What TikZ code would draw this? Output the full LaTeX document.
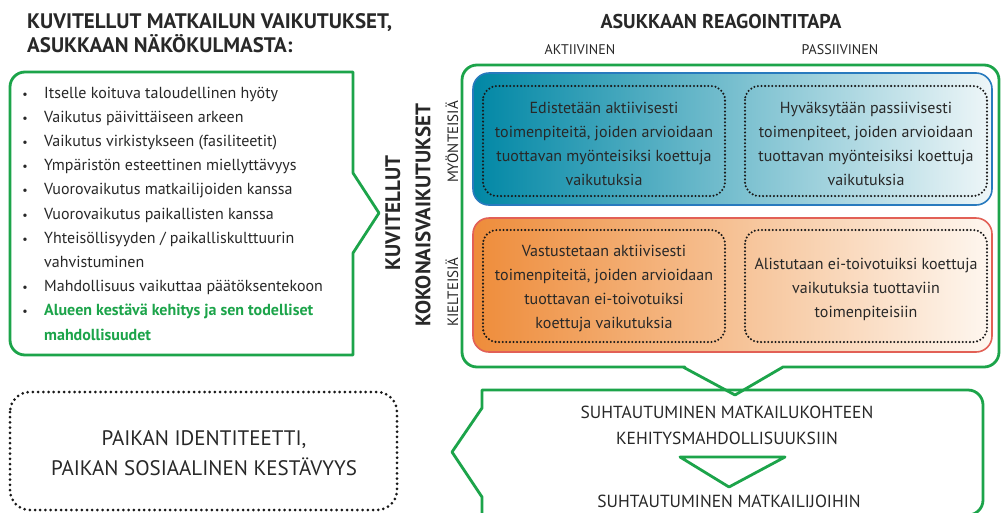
\documentclass[tikz,border=0pt]{standalone}
\usepackage{fontspec}
\setmainfont{PT Sans}
\definecolor{gr}{RGB}{28,164,74}
\definecolor{dk}{RGB}{25,25,25}
\definecolor{txt}{RGB}{40,40,40}
\definecolor{bluebd}{RGB}{40,122,190}
\definecolor{tealA}{RGB}{0,135,165}
\definecolor{tealB}{RGB}{80,175,195}
\definecolor{tealC}{RGB}{238,246,248}
\definecolor{redbd}{RGB}{226,96,86}
\definecolor{orA}{RGB}{238,140,58}
\definecolor{orB}{RGB}{246,190,135}
\definecolor{orC}{RGB}{254,247,240}
\begin{document}
\begin{tikzpicture}[x=1pt,y=-1pt,
  gline/.style={draw=gr, line width=2.8pt, line join=round},
  dotbox/.style={draw=dk, line width=2.3pt, dash pattern=on 0pt off 3.6pt, line cap=round, rounded corners=14pt},
  bigdot/.style={draw=dk, line width=3pt, dash pattern=on 0pt off 5.2pt, line cap=round, rounded corners=20pt},
  title/.style={font=\fontsize{21}{24}\selectfont\bfseries, text=txt, inner sep=0pt},
  item/.style={font=\fontsize{16}{18}\selectfont, text=txt, anchor=base west, inner sep=0pt},
  bul/.style={font=\fontsize{12}{13}\selectfont, text=txt, anchor=base, inner sep=0pt},
  boxtxt/.style={font=\fontsize{16}{24}\selectfont, text=txt, align=center, inner sep=0pt},
  colhead/.style={font=\fontsize{14}{16}\selectfont, text=txt, inner sep=0pt},
  vbig/.style={font=\fontsize{21}{24}\selectfont\bfseries, text=txt, rotate=90, inner sep=0pt},
  vsmall/.style={font=\fontsize{15}{16}\selectfont, text=txt, rotate=90, inner sep=0pt},
  caps/.style={font=\fontsize{17.5}{20}\selectfont, text=txt, inner sep=0pt}
]
\useasboundingbox (0,0) rectangle (1001,512);
\fill[white] (0,0) rectangle (1001,512);

% titles
\node[title, anchor=base west] (t1) at (27,28) {KUVITELLUT MATKAILUN VAIKUTUKSET,};
\node[title, anchor=base west] (t2) at (27,52.5) {ASUKKAAN NÄKÖKULMASTA:};
\node[title, font=\fontsize{20}{24}\selectfont\bfseries, anchor=base] (t3) at (721,28) {ASUKKAAN REAGOINTITAPA};
\node[colhead] (akt) at (580,50) {AKTIIVINEN};
\node[colhead] (pas) at (840,50) {PASSIIVINEN};

% left callout box
\coordinate (lp) at (379,213);
\draw[gline] (353,173) -- (lp) -- (353,253) -- (353,355) -- (200,355)
  [rounded corners=15pt] -- (10,355) -- (10,72) -- (200,72) [sharp corners] -- (353,72) -- cycle;

\foreach \y in {98,122.2,146.4,170.6,194.8,219,243.2,291.6,315.8}
  \node[bul] at (25,\y) {•};
\node[item] (i1) at (44,98) {Itselle koituva taloudellinen hyöty};
\node[item] (i2) at (44,122.2) {Vaikutus päivittäiseen arkeen};
\node[item] (i3) at (44,146.4) {Vaikutus virkistykseen (fasiliteetit)};
\node[item] (i4) at (44,170.6) {Ympäristön esteettinen miellyttävyys};
\node[item] (i5) at (44,194.8) {Vuorovaikutus matkailijoiden kanssa};
\node[item] (i6) at (44,219) {Vuorovaikutus paikallisten kanssa};
\node[item] (i7) at (44,243.2) {Yhteisöllisyyden / paikalliskulttuurin};
\node[item] (i7b) at (44,267.4) {vahvistuminen};
\node[item] (i8) at (44,291.6) {Mahdollisuus vaikuttaa päätöksentekoon};
\node[item, text=gr, font=\fontsize{16}{18}\selectfont\bfseries] (i9) at (44,315.8) {Alueen kestävä kehitys ja sen todelliset};
\node[item, text=gr, font=\fontsize{16}{18}\selectfont\bfseries] (i9b) at (44,340) {mahdollisuudet};

% vertical labels
\node[vbig] (kuv) at (393,213) {KUVITELLUT};
\node[vbig] (kok) at (423,215) {KOKONAISVAIKUTUKSET};
\node[vsmall] (myo) at (452,142) {MYÖNTEISIÄ};
\node[vsmall] (kie) at (452,292) {KIELTEISIÄ};

% outer green box with bottom pointer
\coordinate (vp) at (735,395);
\draw[gline] (vp) -- (783,367) -- (800,367) [rounded corners=15pt] -- (999,367) -- (999,65)
  -- (462,65) -- (462,367) -- (670,367) [sharp corners] -- (683,367) -- cycle;

% blue and red gradient boxes
\draw[draw=bluebd, line width=1.6pt, rounded corners=16pt, left color=tealA, middle color=tealB, right color=tealC]
  (473,73) rectangle (992,205);
\draw[draw=redbd, line width=1.6pt, rounded corners=16pt, left color=orA, middle color=orB, right color=orC]
  (473,218) rectangle (992,352);

% dotted inner boxes
\draw[dotbox] (483,86) rectangle (725,196);
\draw[dotbox] (745,86) rectangle (987,196);
\draw[dotbox] (483,230) rectangle (725,342);
\draw[dotbox] (745,230) rectangle (987,342);

\node[boxtxt] (b1) at (604,144) {Edistetään aktiivisesti\\toimenpiteitä, joiden arvioidaan\\tuottavan myönteisiksi koettuja\\vaikutuksia};
\node[boxtxt] (b2) at (866,144) {Hyväksytään passiivisesti\\toimenpiteet, joiden arvioidaan\\tuottavan myönteisiksi koettuja\\vaikutuksia};
\node[boxtxt] (b3) at (604,289) {Vastustetaan aktiivisesti\\toimenpiteitä, joiden arvioidaan\\tuottavan ei-toivotuiksi\\koettuja vaikutuksia};
\node[boxtxt] (b4) at (866,289) {Alistutaan ei-toivotuiksi koettuja\\vaikutuksia tuottaviin\\toimenpiteisiin};

% bottom left dotted box
\draw[bigdot] (10,392) rectangle (397,510);
\node[font=\fontsize{21}{30}\selectfont, text=txt, align=center, inner sep=0pt] (pk) at (204,453) {PAIKAN IDENTITEETTI,\\PAIKAN SOSIAALINEN KESTÄVYYS};

% bottom right green box
\coordinate (lp2) at (452,452);
\draw[gline] (482,408) -- (lp2) -- (482,497) -- (482,515) -- (700,515) [rounded corners=15pt]
  -- (983,515) -- (983,390) -- (700,390) [sharp corners] -- (482,390) -- cycle;
\node[caps] (s1) at (727,412) {SUHTAUTUMINEN MATKAILUKOHTEEN};
\node[caps] (s2) at (727,438) {KEHITYSMAHDOLLISUUKSIIN};
\node[caps] (s3) at (729,501) {SUHTAUTUMINEN MATKAILIJOIHIN};
\coordinate (ta) at (680,457);
\coordinate (tb) at (785,457);
\coordinate (tc) at (729,487);
\draw[gline] (ta) -- (tb) -- (tc) -- cycle;
\end{tikzpicture}
\end{document}
